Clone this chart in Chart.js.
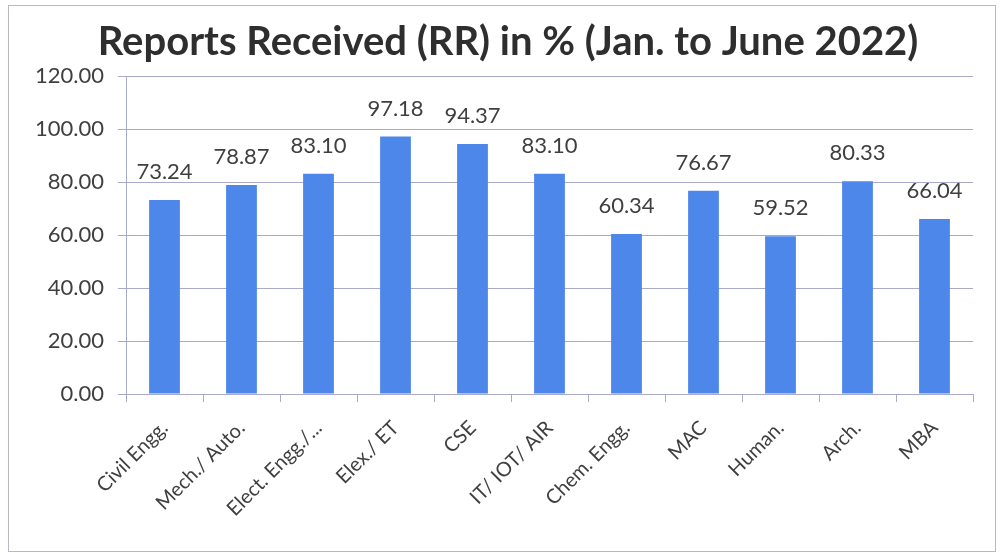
<!DOCTYPE html>
<html>
<head>
<meta charset="utf-8">
<script src="https://cdn.jsdelivr.net/npm/chart.js@4/dist/chart.umd.min.js"></script>
<style>
  html, body { margin: 0; padding: 0; background: #fff; }
  #wrap { position: relative; width: 1001px; height: 558px; }
  #frame { position: absolute; left: 8px; top: 5px; width: 986px; height: 545px; border: 1px solid #b8b8c8; pointer-events: none; }
</style>
</head>
<body>
<div id="wrap">
  <canvas id="chart" width="1001" height="558"></canvas>
  <div id="frame"></div>
</div>
<script>
// departments and their report-received percentages
const departments = ['Civil Engg.', 'Mech./ Auto.', 'Elect. Engg./...', 'Elex./ ET', 'CSE', 'IT/ IOT/ AIR',
  'Chem. Engg.', 'MAC', 'Human.', 'Arch.', 'MBA'];
const received = [73.24, 78.87, 83.10, 97.18, 94.37, 83.10, 60.34, 76.67, 59.52, 80.33, 66.04];
const yTicks = [0, 20, 40, 60, 80, 100, 120];
const chartTitle = 'Reports Received (RR) in % (Jan. to June 2022)';

const textColor = '#3f3f3f';
const gridColor = '#a9a9c9';
const fontFamily = 'Lato, "Open Sans", sans-serif';

// title drawn by hand so it can sit a little right of centre, like the original
const titlePlugin = {
  id: 'titlePlugin',
  afterDraw(chart) {
    const ctx = chart.ctx;
    ctx.save();
    ctx.font = 'bold 40px ' + fontFamily;
    ctx.fillStyle = '#2e2e2e';
    ctx.textAlign = 'center';
    ctx.textBaseline = 'middle';
    ctx.fillText(chartTitle, 508, 42);
    ctx.restore();
  }
};

// simple value labels above the bars
const valueLabels = {
  id: 'valueLabels',
  afterDatasetsDraw(chart) {
    const ctx = chart.ctx;
    const meta = chart.getDatasetMeta(0);
    ctx.save();
    ctx.font = '22px ' + fontFamily;
    ctx.fillStyle = textColor;
    ctx.textAlign = 'center';
    ctx.textBaseline = 'middle';
    meta.data.forEach((bar, i) => {
      ctx.fillText(received[i].toFixed(2), bar.x, bar.y - 28);
    });
    ctx.restore();
  }
};

new Chart(document.getElementById('chart'), {
  type: 'bar',
  data: {
    labels: departments,
    datasets: [{
      data: received,
      backgroundColor: '#4d87ea',
      barPercentage: 0.4,
      categoryPercentage: 1.0
    }]
  },
  options: {
    responsive: false,
    animation: false,
    layout: { padding: { left: 10, right: 28, top: 76, bottom: 8 } },
    plugins: {
      legend: { display: false },
      tooltip: { enabled: false },
      title: { display: false }
    },
    scales: {
      x: {
        grid: { display: true, drawOnChartArea: false, color: gridColor, tickLength: 8, offset: true },
        border: { color: gridColor },
        ticks: {
          color: textColor,
          font: { family: fontFamily, size: 20 },
          minRotation: 45,
          maxRotation: 45,
          autoSkip: false,
          padding: 14
        },
        afterFit(scale) { scale.height = 156; }
      },
      y: {
        min: 0,
        max: 120,
        afterBuildTicks(scale) { scale.ticks = yTicks.map(v => ({ value: v })); },
        grid: { color: gridColor, tickLength: 8 },
        border: { color: gridColor },
        ticks: {
          color: textColor,
          font: { family: fontFamily, size: 22 },
          padding: 14,
          callback: v => Number(v).toFixed(2)
        },
        afterFit(scale) { scale.width = 116; }
      }
    }
  },
  plugins: [valueLabels, titlePlugin]
});
</script>
</body>
</html>
